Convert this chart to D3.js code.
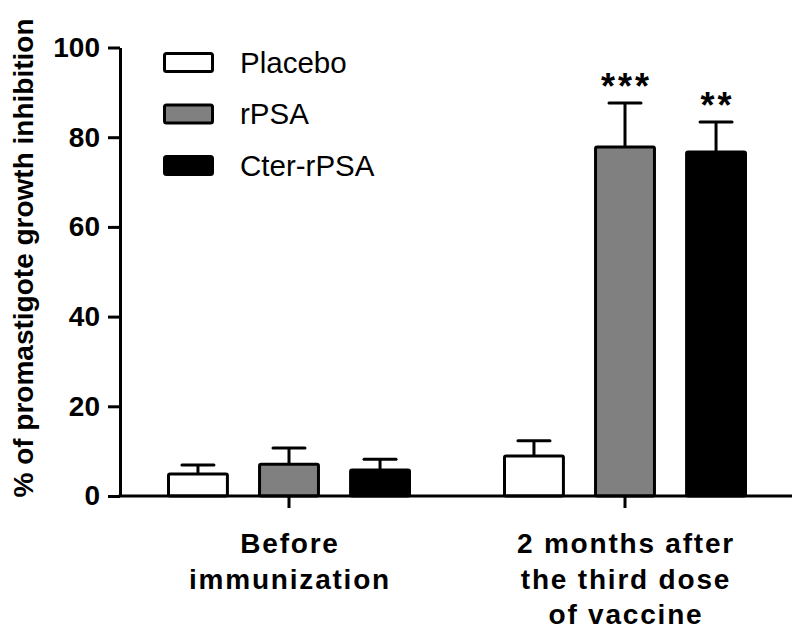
<!DOCTYPE html>
<html>
<head>
<meta charset="utf-8">
<script src="https://cdn.jsdelivr.net/npm/d3@7"></script>
<style>
  html, body { margin: 0; padding: 0; background: #fff; }
  svg { display: block; font-family: "Liberation Sans", Arial, sans-serif; }
</style>
</head>
<body>
<svg id="chart" width="800" height="631"></svg>
<script>
// ---- Data ----
const categories = ["Before immunization", "2 months after the third dose of vaccine"];
const categoryLines = [["Before", "immunization"], ["2 months after", "the third dose", "of vaccine"]];
const seriesNames = ["Placebo", "rPSA", "Cter-rPSA"];
const placeboValues = [4.9, 8.9];
const rpsaValues = [7.1, 77.8];
const cterValues = [5.8, 76.7];
const placeboErrors = [2.0, 3.4];
const rpsaErrors = [3.6, 9.8];
const cterErrors = [2.4, 6.7];
const significance = [["", "", ""], ["", "***", "**"]];
const yTicks = [0, 20, 40, 60, 80, 100];
const yLabel = "% of promastigote growth inhibition";

const seriesFill = { "Placebo": "#ffffff", "rPSA": "#808080", "Cter-rPSA": "#000000" };

const values = [placeboValues, rpsaValues, cterValues];
const errors = [placeboErrors, rpsaErrors, cterErrors];

const data = [];
categories.forEach((c, ci) => {
  seriesNames.forEach((s, si) => {
    data.push({ cat: c, ci, series: s, si, value: values[si][ci], err: errors[si][ci], sig: significance[ci][si] });
  });
});

// ---- Layout ----
const svg = d3.select("#chart");
const axisX = 120, y0 = 496, yTop = 47.5;

const y = d3.scaleLinear().domain([0, 100]).range([y0, yTop]);
const x0 = d3.scaleBand().domain(categories).range([121, 793]);
const x1 = d3.scaleBand().domain(seriesNames).range([46, 290]).paddingInner(0.32).paddingOuter(0);

// Bars
const g = svg.append("g");
data.forEach(d => {
  const bx = x0(d.cat) + x1(d.series);
  const bw = x1.bandwidth();
  const cx = bx + bw / 2;
  // error bar (upper only)
  g.append("line").attr("x1", cx).attr("x2", cx)
    .attr("y1", y(d.value)).attr("y2", y(d.value + d.err))
    .attr("stroke", "#000").attr("stroke-width", 3);
  g.append("line").attr("x1", cx - 16).attr("x2", cx + 16)
    .attr("y1", y(d.value + d.err)).attr("y2", y(d.value + d.err))
    .attr("stroke", "#000").attr("stroke-width", 3).attr("stroke-linecap", "round");
  g.append("rect")
    .attr("x", bx + 1.5).attr("width", bw - 3)
    .attr("y", y(d.value)).attr("height", y0 - y(d.value))
    .attr("fill", seriesFill[d.series]).attr("stroke", "#000").attr("stroke-width", 3)
    .attr("rx", 1.5);
  if (d.sig) {
    g.append("text").attr("x", cx + 1.5).attr("y", y(d.value + d.err) - 4)
      .attr("text-anchor", "middle").attr("font-size", 36).attr("font-weight", "bold")
      .attr("letter-spacing", 3)
      .text(d.sig);
  }
});

// Y axis
const yAxis = d3.axisLeft(y).tickValues(yTicks).tickSize(12).tickPadding(8).tickSizeOuter(0);
const ya = svg.append("g").attr("transform", `translate(${axisX},0)`).call(yAxis);
ya.select(".domain").attr("stroke", "#000").attr("stroke-width", 3);
ya.selectAll(".tick line").attr("stroke", "#000").attr("stroke-width", 3);
ya.selectAll(".tick text").attr("font-size", 28).attr("font-weight", "bold")
  .attr("fill", "#000").attr("font-family", "Liberation Sans, Arial, sans-serif");

// X axis
const xAxis = d3.axisBottom(x0).tickSize(12).tickSizeOuter(0).tickFormat("");
const xa = svg.append("g").attr("transform", `translate(0,${y0})`).call(xAxis);
xa.select(".domain").attr("stroke", "#000").attr("stroke-width", 3).attr("d", `M${axisX - 1.5},0H792`);
xa.selectAll(".tick line").attr("stroke", "#000").attr("stroke-width", 3);

// Category labels
categories.forEach((c, ci) => {
  const cx = x0(c) + x0.bandwidth() / 2;
  const t = svg.append("text").attr("text-anchor", "middle")
    .attr("font-size", 28).attr("font-weight", "bold").attr("letter-spacing", 1.8);
  categoryLines[ci].forEach((line, li) => {
    t.append("tspan").attr("x", cx + 1).attr("y", 553 + li * 35.5).text(line);
  });
});

// Y label
svg.append("text")
  .attr("transform", `translate(33,258) rotate(-90)`)
  .attr("text-anchor", "middle").attr("font-size", 28).attr("font-weight", "bold")
  .text(yLabel);

// Legend
seriesNames.forEach((s, si) => {
  const cy = 62.5 + si * 51.5;
  svg.append("rect").attr("x", 164.5).attr("y", cy - 9).attr("width", 48).attr("height", 18)
    .attr("fill", seriesFill[s]).attr("stroke", "#000").attr("stroke-width", 3).attr("rx", 2);
  svg.append("text").attr("x", 240).attr("y", cy + 10).attr("font-size", 29.5).text(s);
});
</script>
</body>
</html>
